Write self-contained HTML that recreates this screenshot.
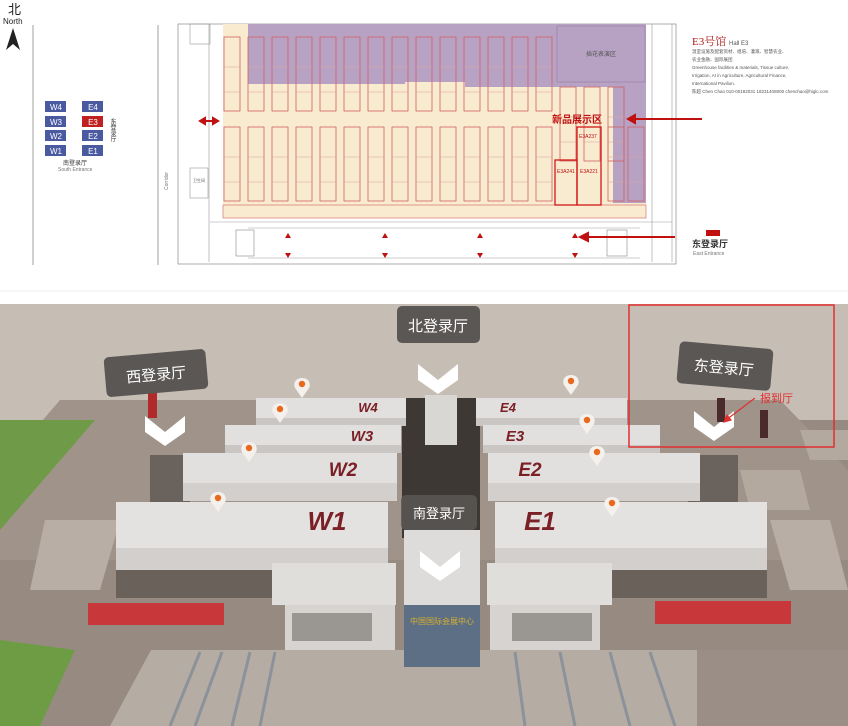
<!DOCTYPE html>
<html><head><meta charset="utf-8"><style>
html,body{margin:0;padding:0;background:#fff;}
svg{display:block;font-family:"Liberation Sans","Noto Sans CJK SC",sans-serif;}
</style></head><body>
<svg width="848" height="726" viewBox="0 0 848 726" xmlns="http://www.w3.org/2000/svg">
<defs>
<g id="bk"><rect width="16" height="74" fill="none" stroke="#d06060" stroke-width="0.8"/><line x1="0" y1="30" x2="16" y2="30" stroke="#d8a0a0" stroke-width="0.5"/><line x1="0" y1="55" x2="16" y2="55" stroke="#d8a0a0" stroke-width="0.5"/></g>
<g id="pin"><path d="M0,0 c-7,0 -9,6 -7,10 l7,10 l7,-10 c2,-4 0,-10 -7,-10z" fill="#f4f0ec"/><circle cx="0" cy="6" r="3.2" fill="#e8691e"/></g>
<g id="chev"><path d="M-20,-14 L0,2 L20,-14 L20,2 L0,16 L-20,2Z" fill="#fff"/></g>
</defs>
<rect width="848" height="300" fill="#fff"/>
<text x="8" y="14" font-size="13" fill="#222">北</text>
<text x="3" y="24" font-size="8" fill="#222">North</text>
<path d="M13,28 L6,50 L13,44 L20,50Z" fill="#222"/>
<line x1="33" y1="25" x2="33" y2="265" stroke="#888" stroke-width="0.8"/>
<line x1="158" y1="25" x2="158" y2="265" stroke="#888" stroke-width="0.8"/>
<g font-size="8" fill="#fff" text-anchor="middle">
<rect x="45" y="101" width="21" height="11" fill="#4a5aa0"/><text x="56" y="110">W4</text>
<rect x="45" y="116" width="21" height="11" fill="#4a5aa0"/><text x="56" y="125">W3</text>
<rect x="45" y="130" width="21" height="11" fill="#4a5aa0"/><text x="56" y="139">W2</text>
<rect x="45" y="145" width="21" height="11" fill="#4a5aa0"/><text x="56" y="154">W1</text>
<rect x="82" y="101" width="21" height="11" fill="#4a5aa0"/><text x="93" y="110">E4</text>
<rect x="82" y="116" width="21" height="11" fill="#c02020"/><text x="93" y="125">E3</text>
<rect x="82" y="130" width="21" height="11" fill="#4a5aa0"/><text x="93" y="139">E2</text>
<rect x="82" y="145" width="21" height="11" fill="#4a5aa0"/><text x="93" y="154">E1</text>
</g>
<text x="112" y="118" font-size="6" fill="#333" writing-mode="tb">东登录厅</text>
<text x="63" y="165" font-size="6" fill="#333">南登录厅</text>
<text x="58" y="171" font-size="5" fill="#777">South Entrance</text>
<rect x="178" y="24" width="498" height="240" fill="none" stroke="#999" stroke-width="0.8"/>
<rect x="190" y="24" width="20" height="20" fill="none" stroke="#999" stroke-width="0.6"/>
<rect x="190" y="168" width="18" height="30" fill="none" stroke="#999" stroke-width="0.6"/>
<text x="193" y="182" font-size="4" fill="#555">卫生间</text>
<text x="168" y="190" font-size="5" fill="#777" transform="rotate(-90 168 190)">Corridor</text>
<line x1="209" y1="24" x2="209" y2="262" stroke="#999" stroke-width="0.6"/>
<line x1="652" y1="24" x2="652" y2="262" stroke="#999" stroke-width="0.6"/>
<line x1="672" y1="24" x2="672" y2="262" stroke="#999" stroke-width="0.6"/>
<rect x="223" y="24" width="423" height="194" fill="#f8ebcf"/>
<path d="M248,24 H646 V203 H613 V87 H465 V82 H405 V84 H248Z" fill="#b8a2c4"/>
<rect x="557" y="26" width="88" height="56" fill="none" stroke="#9a7fa8" stroke-width="0.7"/>
<text x="601" y="56" font-size="6" fill="#555" text-anchor="middle">插花表演区</text>
<g>
<use href="#bk" x="224" y="37"/><use href="#bk" x="248" y="37"/><use href="#bk" x="272" y="37"/><use href="#bk" x="296" y="37"/><use href="#bk" x="320" y="37"/><use href="#bk" x="344" y="37"/><use href="#bk" x="368" y="37"/><use href="#bk" x="392" y="37"/><use href="#bk" x="416" y="37"/><use href="#bk" x="440" y="37"/><use href="#bk" x="464" y="37"/><use href="#bk" x="488" y="37"/><use href="#bk" x="512" y="37"/><use href="#bk" x="536" y="37"/><use href="#bk" x="560" y="87"/><use href="#bk" x="584" y="87"/><use href="#bk" x="608" y="87"/>
<use href="#bk" x="224" y="127"/><use href="#bk" x="248" y="127"/><use href="#bk" x="272" y="127"/><use href="#bk" x="296" y="127"/><use href="#bk" x="320" y="127"/><use href="#bk" x="344" y="127"/><use href="#bk" x="368" y="127"/><use href="#bk" x="392" y="127"/><use href="#bk" x="416" y="127"/><use href="#bk" x="440" y="127"/><use href="#bk" x="464" y="127"/><use href="#bk" x="488" y="127"/><use href="#bk" x="512" y="127"/><use href="#bk" x="536" y="127"/><use href="#bk" x="608" y="127"/><use href="#bk" x="628" y="127"/>
</g>
<rect x="223" y="205" width="423" height="13" fill="none" stroke="#d06060" stroke-width="0.6"/>
<rect x="577" y="127" width="24" height="78" fill="none" stroke="#d01818" stroke-width="1.3"/>
<rect x="555" y="160" width="22" height="45" fill="none" stroke="#d01818" stroke-width="1.3"/>
<text x="579" y="138" font-size="5" fill="#c01010">E3A237</text>
<text x="557" y="173" font-size="5" fill="#c01010">E3A241</text>
<text x="580" y="173" font-size="5" fill="#c01010">E3A221</text>
<text x="552" y="123" font-size="10" font-weight="bold" fill="#c01010">新品展示区</text>
<path d="M702,119 H628 M628,119 l7,-4 v8z" stroke="#c01010" stroke-width="2" fill="#c01010"/>
<path d="M200,121 H218 M200,121 l5,-3 v6z M218,121 l-5,-3 v6z" stroke="#c01010" stroke-width="2" fill="#c01010"/>
<line x1="210" y1="222" x2="672" y2="222" stroke="#999" stroke-width="0.6"/>
<line x1="248" y1="228" x2="640" y2="228" stroke="#999" stroke-width="0.5"/>
<line x1="248" y1="258" x2="640" y2="258" stroke="#999" stroke-width="0.5"/>
<rect x="236" y="230" width="18" height="26" fill="none" stroke="#888" stroke-width="0.6"/>
<rect x="607" y="230" width="20" height="26" fill="none" stroke="#888" stroke-width="0.6"/>
<g fill="#c01010">
<path d="M285,238 l3,-5 l3,5z"/><path d="M382,238 l3,-5 l3,5z"/><path d="M477,238 l3,-5 l3,5z"/><path d="M572,238 l3,-5 l3,5z"/>
<path d="M285,253 l3,5 l3,-5z"/><path d="M382,253 l3,5 l3,-5z"/><path d="M477,253 l3,5 l3,-5z"/><path d="M572,253 l3,5 l3,-5z"/>
</g>
<path d="M675,237 H585 M580,237 l8,-4 v8z" stroke="#c01010" stroke-width="2" fill="#c01010"/>
<rect x="706" y="230" width="14" height="6" fill="#c01010"/>
<text x="692" y="247" font-size="9" font-weight="bold" fill="#333">东登录厅</text>
<text x="693" y="255" font-size="5" fill="#777">East Entrance</text>
<text x="692" y="45" font-size="11" fill="#b01818" font-family="Liberation Serif,Noto Serif CJK SC,serif">E3号馆</text>
<text x="729" y="45" font-size="6" fill="#555">Hall E3</text>
<g font-size="4.5" fill="#555">
<text x="692" y="53">温室设施及配套资材、组培、灌溉、智慧农业、</text>
<text x="692" y="61">农业金融、国际展团</text>
<text x="692" y="69">Greenhouse facilities &amp; materials, Tissue culture,</text>
<text x="692" y="77">Irrigation, AI in Agriculture, Agricultural Finance,</text>
<text x="692" y="85">International Pavilion.</text>
<text x="692" y="93">陈超  Chen Chao 010-00182031 18231408000 chenchao@higlc.com</text>
</g>
<line x1="0" y1="291" x2="848" y2="291" stroke="#eee"/>
<rect x="0" y="304" width="848" height="422" fill="#c6bdb5"/>
<path d="M0,420 L848,420 L848,726 L0,726Z" fill="#968a81"/>
<path d="M0,470 L60,400 H780 L848,470 V560 H0Z" fill="#a09389"/>
<path d="M0,420 L95,420 L0,530Z" fill="#6f9a48"/>
<path d="M0,640 L75,650 L40,726 H0Z" fill="#6e9c45"/>
<path d="M820,700 L848,680 V726 H815Z" fill="#6e9c45"/>
<path d="M45,520 H120 L100,590 H30Z" fill="#b8aea5"/>
<path d="M770,520 H830 L848,590 H790Z" fill="#b8aea5"/>
<path d="M740,470 H800 L810,510 H750Z" fill="#b3a99f"/>
<path d="M800,430 H848 V460 H810Z" fill="#b3a99f"/>
<path d="M151,650 H697 L740,726 H110Z" fill="#b5aca3"/>
<g stroke="#8b929a" stroke-width="3">
<line x1="200" y1="652" x2="170" y2="726"/><line x1="222" y1="652" x2="195" y2="726"/><line x1="250" y1="652" x2="232" y2="726"/><line x1="275" y1="652" x2="260" y2="726"/>
<line x1="515" y1="652" x2="525" y2="726"/><line x1="560" y1="652" x2="575" y2="726"/><line x1="610" y1="652" x2="630" y2="726"/><line x1="650" y1="652" x2="675" y2="726"/>
</g>
<rect x="697" y="650" width="151" height="76" fill="#9a8e86"/>
<rect x="402" y="398" width="78" height="140" fill="#3d3834"/>
<rect x="425" y="395" width="32" height="50" fill="#d9d7d4"/>
<g>
<rect x="256" y="398" width="150" height="24" fill="#e2e0de"/><rect x="256" y="418" width="150" height="8" fill="#c9c6c3"/>
<rect x="476" y="398" width="151" height="24" fill="#e2e0de"/><rect x="476" y="418" width="151" height="8" fill="#c9c6c3"/>
<rect x="225" y="425" width="176" height="22" fill="#e2e0de"/><rect x="225" y="445" width="176" height="8" fill="#c9c6c3"/>
<rect x="483" y="425" width="177" height="22" fill="#e2e0de"/><rect x="483" y="445" width="177" height="8" fill="#c9c6c3"/>
<rect x="150" y="455" width="40" height="60" fill="#6a625c"/>
<rect x="688" y="455" width="50" height="60" fill="#6a625c"/>
<rect x="183" y="453" width="214" height="30" fill="#e2e0de"/><rect x="183" y="483" width="214" height="18" fill="#d2cfcc"/>
<rect x="488" y="453" width="212" height="30" fill="#e2e0de"/><rect x="488" y="483" width="212" height="18" fill="#d2cfcc"/>
<rect x="116" y="502" width="272" height="46" fill="#e4e2e0"/><rect x="116" y="548" width="272" height="22" fill="#d2cfcc"/><rect x="116" y="570" width="272" height="28" fill="#6a615a"/>
<rect x="495" y="502" width="272" height="46" fill="#e4e2e0"/><rect x="495" y="548" width="272" height="22" fill="#d2cfcc"/><rect x="495" y="570" width="272" height="28" fill="#6a615a"/>
<rect x="272" y="563" width="124" height="42" fill="#e0dedb"/><rect x="285" y="605" width="110" height="45" fill="#d6d3d0"/><rect x="292" y="613" width="80" height="28" fill="#9a9692"/>
<rect x="487" y="563" width="125" height="42" fill="#e0dedb"/><rect x="490" y="605" width="110" height="45" fill="#d6d3d0"/><rect x="512" y="613" width="80" height="28" fill="#9a9692"/>
<rect x="404" y="530" width="76" height="75" fill="#dedcda"/>
<rect x="404" y="605" width="76" height="62" fill="#5d6f85"/>
<text x="442" y="624" font-size="8" fill="#d8b030" text-anchor="middle">中国国际会展中心</text>
</g>
<g font-family="Liberation Sans,sans-serif" font-weight="bold" font-style="italic" fill="#7a2026" text-anchor="middle">
<text x="368" y="412" font-size="13">W4</text><text x="362" y="441" font-size="15">W3</text><text x="343" y="476" font-size="19">W2</text><text x="327" y="530" font-size="26">W1</text>
<text x="508" y="412" font-size="13">E4</text><text x="515" y="441" font-size="15">E3</text><text x="530" y="476" font-size="19">E2</text><text x="540" y="530" font-size="26">E1</text>
</g>
<rect x="88" y="603" width="136" height="22" fill="#c8383a"/>
<rect x="655" y="601" width="136" height="23" fill="#c8383a"/>
<use href="#pin" x="302" y="378"/><use href="#pin" x="280" y="403"/><use href="#pin" x="249" y="442"/><use href="#pin" x="218" y="492"/>
<use href="#pin" x="571" y="375"/><use href="#pin" x="587" y="414"/><use href="#pin" x="597" y="446"/><use href="#pin" x="612" y="497"/>
<use href="#chev" x="438" y="378"/><use href="#chev" x="440" y="565"/><use href="#chev" x="165" y="430"/><use href="#chev" x="714" y="425"/>
<rect x="148" y="392" width="9" height="26" fill="#b02a2a"/>
<rect x="717" y="398" width="8" height="24" fill="#4a2a2a"/><rect x="760" y="410" width="8" height="28" fill="#4a2a2a"/>
<g font-size="15" fill="#fff" text-anchor="middle">
<rect x="397" y="306" width="83" height="37" rx="5" fill="#5a5755"/><text x="438" y="331">北登录厅</text>
<g transform="rotate(-5 156 373)"><rect x="105" y="353" width="102" height="40" rx="5" fill="#5a5755"/><text x="156" y="380">西登录厅</text></g>
<g transform="rotate(5 724 366)"><rect x="678" y="345" width="94" height="42" rx="5" fill="#5a5755"/><text x="724" y="373">东登录厅</text></g>
<rect x="401" y="495" width="76" height="35" rx="5" fill="#5a5755" opacity="0.85"/><text x="439" y="518" font-size="13">南登录厅</text>
</g>
<rect x="629" y="305" width="205" height="142" fill="none" stroke="#e03030" stroke-width="1.5"/>
<text x="760" y="402" font-size="11" fill="#e03030">报到厅</text>
<path d="M755,398 L726,420 M724,422 l3,-7 l4,5z" stroke="#e03030" stroke-width="1.2" fill="#e03030"/>
</svg>
</body></html>
